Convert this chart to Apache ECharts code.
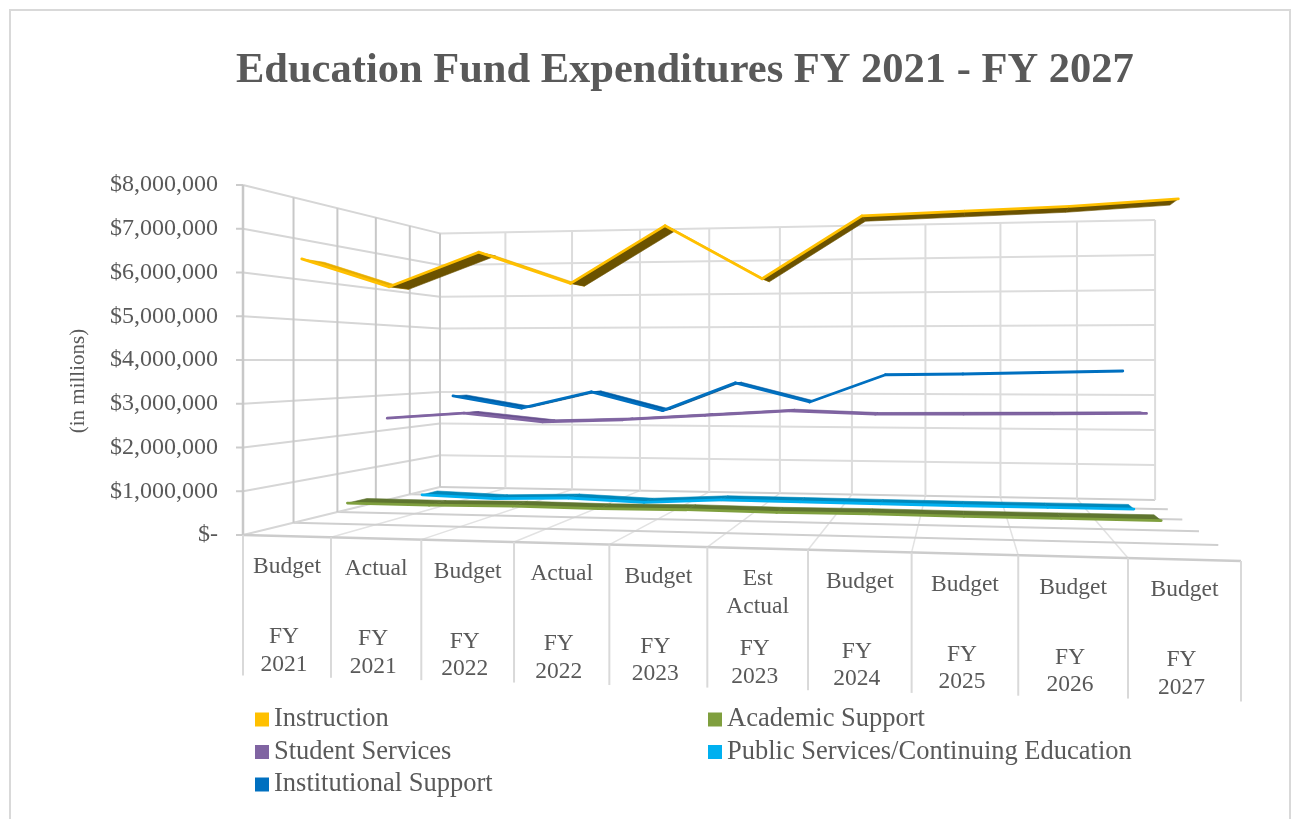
<!DOCTYPE html>
<html><head><meta charset="utf-8">
<style>html,body{margin:0;padding:0;background:#fff}#c{width:1301px;height:819px}</style>
<script src="https://cdn.jsdelivr.net/npm/echarts@6/dist/echarts.min.js"></script>
</head><body><div id="c"></div>
<script>
const periods = ['Budget','Actual','Budget','Actual','Budget','Est\nActual','Budget','Budget','Budget','Budget'];
const fiscalYears = ['FY\n2021','FY\n2021','FY\n2022','FY\n2022','FY\n2023','FY\n2023','FY\n2024','FY\n2025','FY\n2026','FY\n2027'];
const seriesNames = ['Instruction','Academic Support','Student Services','Public Services/Continuing Education','Institutional Support'];
const instruction = [6350000,5680000,6440000,5710000,6960000,5765000,7090000,7145000,7200000,7310000];
const academicSupport = [430000,420000,440000,420000,440000,420000,430000,420000,420000,420000];
const studentServices = [2450000,2600000,2390000,2460000,2590000,2720000,2650000,2670000,2690000,2715000];
const publicServices = [170000,100000,160000,80000,190000,180000,170000,160000,160000,160000];
const institutionalSupport = [2920000,2570000,3060000,2520000,3340000,2800000,3585000,3610000,3655000,3700000];
const valueTicks = [0,1000000,2000000,3000000,4000000,5000000,6000000,7000000,8000000];
const allValues = [instruction,academicSupport,studentServices,publicServices,institutionalSupport];

const lineColors = ['#FFC000','#7F9F3E','#8064A2','#00B0F0','#0070C0'];
const topColors = ['#E8AE00','#5F7530','#6A5290','#0088BB','#005FA8'];
const underColors = ['#6B5200','#5F7530','#5A4478','#006F99','#00426F'];
const FONT = '"Liberation Serif","Times New Roman",serif';
const TXT = '#595959';
const G = {left:243, top:185, width:998, height:350};
// camera: floor/wall corners with homogeneous weights
const CAM = {A:[243,535], B:[243,185], C:[440,487], E:[1241,561], wB:1, wC:1.38, wE:0.87};
function project(u,v,d){
  const O=[CAM.A[0],CAM.A[1],1];
  const hu=[CAM.wE*CAM.E[0]-O[0],CAM.wE*CAM.E[1]-O[1],CAM.wE-1];
  const hv=[CAM.wB*CAM.B[0]-O[0],CAM.wB*CAM.B[1]-O[1],CAM.wB-1];
  const hd=[CAM.wC*CAM.C[0]-O[0],CAM.wC*CAM.C[1]-O[1],CAM.wC-1];
  const h=[0,1,2].map(i=>O[i]+u*hu[i]+v*hv[i]+d*hd[i]);
  return [h[0]/h[2],h[1]/h[2]];
}
// flat axis pixel -> normalised axis position -> perspective
function flat(api,x,val){
  const p=api.coord([x,val]);
  return [(p[0]-G.left)/G.width,(G.top+G.height-p[1])/G.height];
}
function seg(a,b,color,width){
  return {type:'line',shape:{x1:a[0],y1:a[1],x2:b[0],y2:b[1]},style:{stroke:color,lineWidth:width,fill:null},silent:true};
}
function renderWalls(params,api){
  const kids=[];const n=periods.length;const depthBands=seriesNames.length;
  const maxV=valueTicks[valueTicks.length-1];
  // floor
  for(let i=1;i<n;i++){const [u]=flat(api,i,0);kids.push(seg(project(u,0,0),project(u,0,1),'#e2e2e2',1.5));}
  for(let k=1;k<=depthBands;k++){kids.push(seg(project(0,0,k/depthBands),project(1,0,k/depthBands),'#cfcfcf',2));}
  // back wall
  valueTicks.forEach(t=>{const [,v]=flat(api,0,t);if(t>0)kids.push(seg(project(0,v,1),project(1,v,1),'#dcdcdc',2));});
  for(let i=0;i<=n;i++){const [u,v]=flat(api,i,maxV);kids.push(seg(project(u,0,1),project(u,v,1),'#dcdcdc',2));}
  // left wall
  valueTicks.forEach(t=>{const [,v]=flat(api,0,t);
    kids.push(seg(project(0,v,0),project(0,v,1),'#d6d6d6',2));
    const p=project(0,v,0);kids.push(seg([p[0]-7,p[1]],p,'#cccccc',2));});
  for(let k=0;k<=depthBands;k++){const [,v]=flat(api,0,maxV);
    kids.push(seg(project(0,0,k/depthBands),project(0,v,k/depthBands),'#c8c8c8',k===0?2.5:2));}
  // front edge + table dividers
  kids.push(seg(project(0,0,0),project(1,0,0),'#cccccc',2.5));
  for(let i=0;i<=n;i++){const [u]=flat(api,i,0);const p=project(u,0,0);
    kids.push(seg(p,[p[0],p[1]+140.5],'#d9d9d9',2));}
  return {type:'group',children:kids};
}
function renderLabels(params,api){
  const i=params.dataIndex;
  const [u0]=flat(api,i,0),[u1]=flat(api,i+1,0);
  const a=project(u0,0,0),b=project(u1,0,0);
  const cx=(a[0]+b[0])/2,cy=(a[1]+b[1])/2;
  const mk=(t,x,y)=>({type:'text',silent:true,style:{text:t,x:x,y:y,align:'center',verticalAlign:'top',font:'23.5px '+FONT,fill:TXT,lineHeight:27.5}});
  return {type:'group',children:[mk(periods[i],cx,cy+17),mk(fiscalYears[i],cx-3,cy+87)]};
}
function makeRibbon(k){
  const d0=k/5+0.06,d1=k/5+0.155;
  return function(params,api){
    const i=params.dataIndex;
    const vals=allValues[k];
    if(i>=vals.length-1) return {type:'group',children:[]};
    const [u1,v1]=flat(api,i+0.5,api.value(1));
    const [u2,v2]=flat(api,i+1.5,vals[i+1]);
    const F1=project(u1,v1,d0),F2=project(u2,v2,d0),B2=project(u2,v2,d1),B1=project(u1,v1,d1);
    const pts=[F1,F2,B2,B1];
    let area=0;for(let j=0;j<4;j++){const p=pts[j],q=pts[(j+1)%4];area+=p[0]*q[1]-q[0]*p[1];}
    const fill=area<0?topColors[k]:underColors[k];
    return {type:'group',children:[
      {type:'polygon',silent:true,shape:{points:pts},style:{fill:fill,stroke:fill,lineWidth:0.6}},
      {type:'line',silent:true,shape:{x1:F1[0],y1:F1[1],x2:F2[0],y2:F2[1]},style:{stroke:lineColors[k],lineWidth:2.8,lineCap:'round',fill:null}}
    ]};
  };
}
const ribbonSeries=seriesNames.map((name,k)=>({
  name:name,type:'custom',coordinateSystem:'cartesian2d',z:10-k,clip:false,
  itemStyle:{color:lineColors[k]},
  encode:{x:0,y:1},
  data:allValues[k].map((v,i)=>[i+0.5,v]),
  renderItem:makeRibbon(k)
}));
const chart=echarts.init(document.getElementById('c'),null,{renderer:'canvas'});
const legendText={fontFamily:FONT,fontSize:26.5,color:TXT};
chart.setOption({
  animation:false,backgroundColor:'#fff',
  graphic:[{type:'rect',silent:true,z:-1,shape:{x:10,y:10,width:1280,height:900},style:{fill:'none',stroke:'#d9d9d9',lineWidth:2}}],
  title:{text:'Education Fund Expenditures FY 2021 - FY 2027',left:231,top:45,
    textStyle:{fontFamily:FONT,fontWeight:'bold',fontSize:42.5,color:TXT}},
  legend:[
    {data:[seriesNames[0],seriesNames[2],seriesNames[4]],orient:'vertical',left:255,top:706,itemWidth:14,itemHeight:14,itemGap:5.5,icon:'rect',selectedMode:false,textStyle:legendText,padding:0},
    {data:[seriesNames[1],seriesNames[3]],orient:'vertical',left:708,top:706,itemWidth:14,itemHeight:14,itemGap:5.5,icon:'rect',selectedMode:false,textStyle:legendText,padding:0}
  ],
  grid:{left:G.left,top:G.top,width:G.width,height:G.height,containLabel:false},
  xAxis:{type:'value',min:0,max:periods.length,interval:1,show:false},
  yAxis:{type:'value',min:0,max:8000000,interval:1000000,
    axisLine:{show:false},axisTick:{show:false},splitLine:{show:false},
    axisLabel:{margin:25,fontFamily:FONT,fontSize:24,color:TXT,
      formatter:v=>v===0?'$-':'$'+v.toLocaleString('en-US')},
    name:'(in millions)',nameLocation:'middle',nameGap:154,nameRotate:90,
    nameTextStyle:{fontFamily:FONT,fontSize:21,color:TXT,padding:[0,42,0,0]}},
  series:[
    {type:'custom',coordinateSystem:'cartesian2d',z:1,clip:false,silent:true,data:[[0,0]],encode:{x:0,y:1},renderItem:renderWalls},
    {type:'custom',coordinateSystem:'cartesian2d',z:2,clip:false,silent:true,data:periods.map((p,i)=>[i,0]),encode:{x:0,y:1},renderItem:renderLabels}
  ].concat(ribbonSeries)
});
</script></body></html>
